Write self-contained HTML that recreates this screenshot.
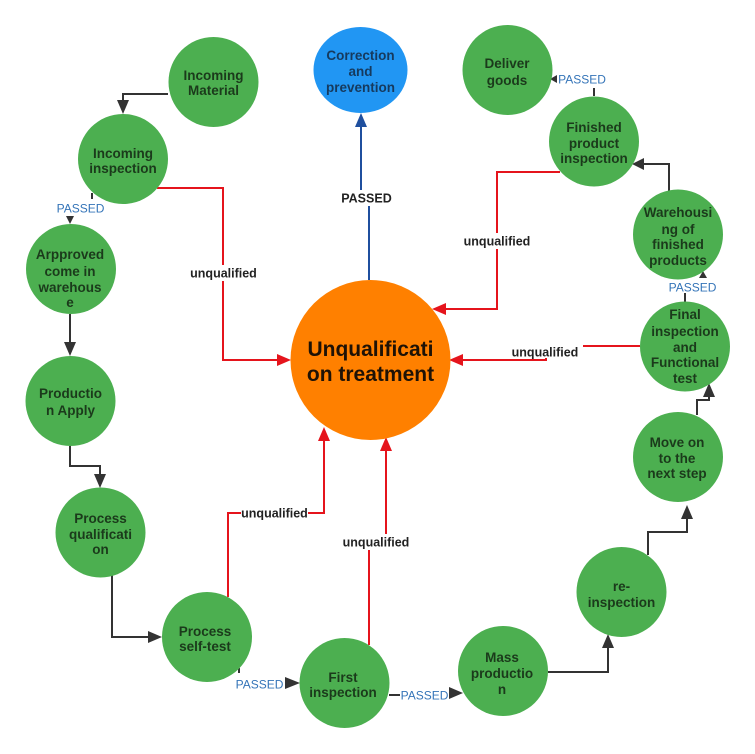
<!DOCTYPE html>
<html><head><meta charset="utf-8"><style>
html,body{margin:0;padding:0;background:#fff;}
svg{display:block;}
.n{font-family:"Liberation Sans",Arial,sans-serif;font-weight:bold;font-size:13.5px;fill:#1b3a1b;text-anchor:middle;}
.p{font-family:"Liberation Sans",Arial,sans-serif;font-size:12px;fill:#3474b8;text-anchor:middle;}
.u{font-family:"Liberation Sans",Arial,sans-serif;font-weight:bold;font-size:12.5px;fill:#222;text-anchor:middle;}
</style></head><body>
<svg width="755" height="754" viewBox="0 0 755 754" xmlns="http://www.w3.org/2000/svg">
<rect width="755" height="754" fill="#fff"/>
<!-- black connectors -->
<g fill="none" stroke="#333" stroke-width="2">
<path d="M168,94 H123 V101"/>
<path d="M92,193 V199"/>
<path d="M70,314 V343"/>
<path d="M70,446 V466 H100 V475"/>
<path d="M112,572 V637 H149"/>
<path d="M239,668 V673"/>
<path d="M389,695 H400"/>
<path d="M548,672 H608 V647"/>
<path d="M648,555 V532 H687 V518"/>
<path d="M697,415 V400 H709 V396"/>
<path d="M685,293 V302"/>
<path d="M669,192 V164 H644"/>
<path d="M594,88 V96"/>
</g>
<g fill="#333">
<polygon points="123,114 117,100 129,100"/>
<polygon points="70,224 66,216 74,216"/>
<polygon points="70,356 64,342 76,342"/>
<polygon points="100,488 94,474 106,474"/>
<polygon points="162,637 148,631 148,643"/>
<polygon points="300,683 285,677 285,689"/>
<polygon points="463,693 449,687 449,699"/>
<polygon points="608,634 602,648 614,648"/>
<polygon points="687,505 681,519 693,519"/>
<polygon points="709,383 703,397 715,397"/>
<polygon points="703,271 699,278 707,278"/>
<polygon points="632,164 644,158 644,170"/>
<polygon points="550,79 557,75 557,83"/>
</g>
<!-- red connectors -->
<g fill="none" stroke="#e5141c" stroke-width="2">
<path d="M157,188 H223 V360 H278"/>
<path d="M228,597 V513 H324 V441"/>
<path d="M369,645 V548 H386 V451"/>
<path d="M560,172 H497 V309 H446"/>
<path d="M640,346 H546 V360 H463"/>
</g>
<g fill="#e5141c">
<polygon points="291,360 277,354 277,366"/>
<polygon points="324,427 318,441 330,441"/>
<polygon points="386,437 380,451 392,451"/>
<polygon points="432,309 446,303 446,315"/>
<polygon points="449,360 463,354 463,366"/>
</g>
<!-- blue connector -->
<path d="M369,280 V198 H361 V126" fill="none" stroke="#1f4f9e" stroke-width="2"/>
<polygon points="361,113 355,127 367,127" fill="#1f4f9e"/>

<!-- labels with white bg -->
<rect x="189" y="265" width="69" height="16" fill="#fff"/>
<text class="u" x="223.5" y="277.5">unqualified</text>
<rect x="241" y="505" width="67" height="16" fill="#fff"/>
<text class="u" x="274.5" y="517.5">unqualified</text>
<rect x="342" y="534" width="68" height="16" fill="#fff"/>
<text class="u" x="376" y="546.5">unqualified</text>
<rect x="463" y="233" width="68" height="16" fill="#fff"/>
<text class="u" x="497" y="245.5">unqualified</text>
<rect x="507" y="344" width="76" height="14" fill="#fff"/>
<text class="u" x="545" y="356.5">unqualified</text>
<rect x="340" y="190" width="53" height="16" fill="#fff"/>
<text class="u" x="366.5" y="202.5">PASSED</text>

<text class="p" x="80.5" y="212.5">PASSED</text>
<text class="p" x="259.5" y="688.5">PASSED</text>
<text class="p" x="424.5" y="699.5">PASSED</text>
<text class="p" x="692.5" y="291.5">PASSED</text>
<text class="p" x="582" y="83.5">PASSED</text>

<!-- nodes -->
<g fill="#4caf50">
<circle cx="213.5" cy="82" r="45"/>
<circle cx="123" cy="159" r="45"/>
<circle cx="71" cy="269" r="45"/>
<circle cx="70.5" cy="401" r="45"/>
<circle cx="100.5" cy="532.5" r="45"/>
<circle cx="207" cy="637" r="45"/>
<circle cx="344.5" cy="683" r="45"/>
<circle cx="503" cy="671" r="45"/>
<circle cx="621.5" cy="592" r="45"/>
<circle cx="678" cy="457" r="45"/>
<circle cx="685" cy="346.5" r="45"/>
<circle cx="678" cy="234.5" r="45"/>
<circle cx="594" cy="141.5" r="45"/>
<circle cx="507.5" cy="70" r="45"/>
</g>
<ellipse cx="360.5" cy="70" rx="47" ry="43" fill="#2196f3"/>
<circle cx="370.5" cy="360" r="80" fill="#ff8000"/>

<text class="n" x="213.5" y="80">Incoming</text>
<text class="n" x="213.5" y="95">Material</text>
<text class="n" x="123" y="158">Incoming</text>
<text class="n" x="123" y="173">inspection</text>
<text class="n" x="70" y="259">Arpproved</text>
<text class="n" x="70" y="276">come in</text>
<text class="n" x="70" y="292">warehous</text>
<text class="n" x="70" y="307">e</text>
<text class="n" x="70.5" y="398">Productio</text>
<text class="n" x="70.5" y="415">n Apply</text>
<text class="n" x="100.5" y="523">Process</text>
<text class="n" x="100.5" y="539">qualificati</text>
<text class="n" x="100.5" y="554">on</text>
<text class="n" x="205" y="636">Process</text>
<text class="n" x="205" y="651">self-test</text>
<text class="n" x="343" y="682">First</text>
<text class="n" x="343" y="697">inspection</text>
<text class="n" x="502" y="662">Mass</text>
<text class="n" x="502" y="678">productio</text>
<text class="n" x="502" y="694">n</text>
<text class="n" x="621.5" y="591">re-</text>
<text class="n" x="621.5" y="607">inspection</text>
<text class="n" x="677" y="447">Move on</text>
<text class="n" x="677" y="463">to the</text>
<text class="n" x="677" y="478">next step</text>
<text class="n" x="685" y="319">Final</text>
<text class="n" x="685" y="336">inspection</text>
<text class="n" x="685" y="352">and</text>
<text class="n" x="685" y="367">Functional</text>
<text class="n" x="685" y="383">test</text>
<text class="n" x="678" y="217">Warehousi</text>
<text class="n" x="678" y="234">ng of</text>
<text class="n" x="678" y="249">finished</text>
<text class="n" x="678" y="265">products</text>
<text class="n" x="594" y="132">Finished</text>
<text class="n" x="594" y="148">product</text>
<text class="n" x="594" y="163">inspection</text>
<text class="n" x="507" y="68">Deliver</text>
<text class="n" x="507" y="85">goods</text>
<text class="n" x="360.5" y="60" style="fill:#163a5e">Correction</text>
<text class="n" x="360.5" y="76" style="fill:#163a5e">and</text>
<text class="n" x="360.5" y="92" style="fill:#163a5e">prevention</text>
<text x="370.5" y="356" text-anchor="middle" style="font-family:'Liberation Sans',Arial,sans-serif;font-weight:bold;font-size:21px;fill:#1e1206">Unqualificati</text>
<text x="370.5" y="381" text-anchor="middle" style="font-family:'Liberation Sans',Arial,sans-serif;font-weight:bold;font-size:21px;fill:#1e1206">on treatment</text>
</svg>
</body></html>
